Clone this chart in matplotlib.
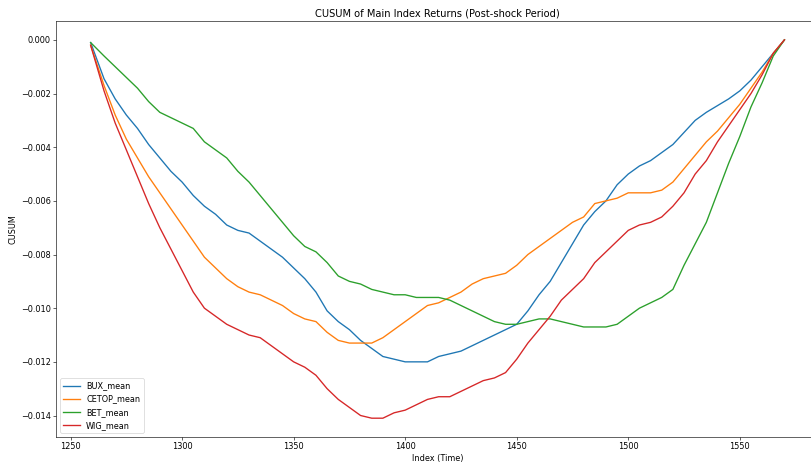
import matplotlib
matplotlib.use("Agg")
import matplotlib.pyplot as plt

index = [1259] + list(range(1265, 1571, 5))

bux = [-0.0001, -0.00145, -0.0022, -0.0028, -0.0033, -0.0039, -0.0044, -0.0049,
       -0.0053, -0.0058, -0.0062, -0.0065, -0.0069, -0.0071, -0.0072, -0.0075,
       -0.0078, -0.0081, -0.0085, -0.0089, -0.0094, -0.0101, -0.0105, -0.0108,
       -0.0112, -0.0115, -0.0118, -0.0119, -0.0120, -0.0120, -0.0120, -0.0118,
       -0.0117, -0.0116, -0.0114, -0.0112, -0.0110, -0.0108, -0.0106, -0.0101,
       -0.0095, -0.0090, -0.0083, -0.0076, -0.0069, -0.0064, -0.0060, -0.0054,
       -0.0050, -0.0047, -0.0045, -0.0042, -0.0039, -0.00345, -0.0030, -0.0027,
       -0.00245, -0.0022, -0.0019, -0.0015, -0.0010, -0.0005, 0.0]

cetop = [-0.0002, -0.0017, -0.0028, -0.0037, -0.0044, -0.0051, -0.0057, -0.0063,
         -0.0069, -0.0075, -0.0081, -0.0085, -0.0089, -0.0092, -0.0094, -0.0095,
         -0.0097, -0.0099, -0.0102, -0.0104, -0.0105, -0.0109, -0.0112, -0.0113,
         -0.0113, -0.0113, -0.0111, -0.0108, -0.0105, -0.0102, -0.0099, -0.0098,
         -0.0096, -0.0094, -0.0091, -0.0089, -0.0088, -0.0087, -0.0084, -0.0080,
         -0.0077, -0.0074, -0.0071, -0.0068, -0.0066, -0.0061, -0.0060, -0.0059,
         -0.0057, -0.0057, -0.0057, -0.0056, -0.0053, -0.0048, -0.0043, -0.0038,
         -0.0034, -0.0029, -0.0024, -0.0018, -0.0012, -0.0005, 0.0]

bet = [-0.0001, -0.0006, -0.0010, -0.0014, -0.0018, -0.0023, -0.0027, -0.0029,
       -0.0031, -0.0033, -0.0038, -0.0041, -0.0044, -0.0049, -0.0053, -0.0058,
       -0.0063, -0.0068, -0.0073, -0.0077, -0.0079, -0.0083, -0.0088, -0.0090,
       -0.0091, -0.0093, -0.0094, -0.0095, -0.0095, -0.0096, -0.0096, -0.0096,
       -0.0097, -0.0099, -0.0101, -0.0103, -0.0105, -0.0106, -0.0106, -0.0105,
       -0.0104, -0.0104, -0.0105, -0.0106, -0.0107, -0.0107, -0.0107, -0.0106,
       -0.0103, -0.0100, -0.0098, -0.0096, -0.0093, -0.0084, -0.0076, -0.0068,
       -0.0057, -0.0046, -0.0036, -0.0025, -0.0016, -0.0006, 0.0]

wig = [-0.0002, -0.0019, -0.0031, -0.0041, -0.0051, -0.0061, -0.0070, -0.0078,
       -0.0086, -0.0094, -0.0100, -0.0103, -0.0106, -0.0108, -0.0110, -0.0111,
       -0.0114, -0.0117, -0.0120, -0.0122, -0.0125, -0.0130, -0.0134, -0.0137,
       -0.0140, -0.0141, -0.0141, -0.0139, -0.0138, -0.0136, -0.0134, -0.0133,
       -0.0133, -0.0131, -0.0129, -0.0127, -0.0126, -0.0124, -0.0119, -0.0113,
       -0.0108, -0.0103, -0.0097, -0.0093, -0.0089, -0.0083, -0.0079, -0.0075,
       -0.0071, -0.0069, -0.0068, -0.0066, -0.0062, -0.0057, -0.0050, -0.0045,
       -0.0038, -0.0032, -0.0026, -0.0020, -0.0013, -0.0005, 0.0]

series = [("BUX_mean", bux), ("CETOP_mean", cetop), ("BET_mean", bet), ("WIG_mean", wig)]

dpi = 54
plt.rcParams["font.size"] = 10.9
plt.rcParams["axes.titlesize"] = 13.1
plt.rcParams["lines.linewidth"] = 1.8
fig = plt.figure(figsize=(811 / dpi, 466 / dpi), dpi=dpi)
ax = fig.add_axes([0.069, 0.062, 0.941, 0.893])
for name, vals in series:
    ax.plot(index, vals, label=name)
ax.set_title("CUSUM of Main Index Returns (Post-shock Period)")
ax.set_xlabel("Index (Time)")
ax.set_ylabel("CUSUM")
ax.legend(loc="lower left")
fig.savefig("out.png", dpi=dpi)
